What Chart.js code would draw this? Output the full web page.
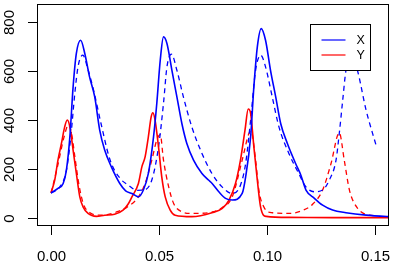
<!DOCTYPE html>
<html>
<head>
<meta charset="utf-8">
<script src="https://cdn.jsdelivr.net/npm/chart.js@4/dist/chart.umd.min.js"></script>
<style>
  html, body { margin: 0; padding: 0; background: #fff; }
  #wrap { width: 393px; height: 263px; }
</style>
</head>
<body>
<div id="wrap"><canvas id="chart" width="393" height="263"></canvas></div>
<script>
// observed series (solid)
const obsTimeX = [0, 0.0032, 0.0056, 0.0071, 0.0087, 0.0102, 0.0117, 0.0137, 0.0156, 0.0178, 0.0202, 0.0225, 0.0248, 0.0279, 0.0318, 0.0345, 0.0374, 0.0404, 0.0427, 0.045, 0.0474, 0.0489, 0.0505, 0.052, 0.0536, 0.0559, 0.0582, 0.0605, 0.0628, 0.0659, 0.0698, 0.0728, 0.0745, 0.0776, 0.0807, 0.0838, 0.0884, 0.09, 0.0923, 0.0938, 0.0954, 0.0972, 0.0992, 0.1015, 0.1039, 0.1062, 0.1093, 0.1131, 0.1155, 0.1179, 0.1218, 0.1256, 0.1302, 0.1364, 0.1457, 0.16];
const obsX = [102, 120, 140, 195, 331, 536, 673, 727, 673, 577, 495, 359, 277, 208, 140, 110, 99, 85, 113, 181, 331, 468, 645, 741, 714, 604, 495, 386, 304, 236, 181, 154, 140, 106, 79, 72, 99, 167, 331, 536, 700, 775, 727, 604, 495, 386, 304, 222, 175, 113, 79, 51, 31, 20, 10, 2];

const obsTimeY = [0, 0.0017, 0.0032, 0.0048, 0.0063, 0.0075, 0.0087, 0.0102, 0.0117, 0.0133, 0.0148, 0.0171, 0.021, 0.0248, 0.0294, 0.0333, 0.0356, 0.0374, 0.0404, 0.042, 0.0435, 0.045, 0.0463, 0.0471, 0.0481, 0.0497, 0.0512, 0.0528, 0.0551, 0.0574, 0.0651, 0.0744, 0.0792, 0.0823, 0.0853, 0.0876, 0.0897, 0.0912, 0.0923, 0.0938, 0.0954, 0.0969, 0.0995, 0.11, 0.13, 0.16];
const obsY = [102, 154, 236, 304, 372, 400, 372, 277, 181, 85, 44, 17, 5, 10, 14, 31, 55, 85, 140, 208, 249, 331, 413, 430, 400, 290, 167, 85, 31, 10, 4, 20, 38, 72, 140, 236, 359, 445, 427, 290, 154, 44, 5, 1, 0, 0];

// fitted series (dashed)
const fitTimeX = [0, 0.004, 0.007, 0.009, 0.011, 0.0125, 0.0147, 0.017, 0.02, 0.023, 0.0273, 0.032, 0.0358, 0.0396, 0.0426, 0.0466, 0.0497, 0.052, 0.0536, 0.0557, 0.0582, 0.0612, 0.0651, 0.0698, 0.0744, 0.0792, 0.0838, 0.0876, 0.09, 0.0923, 0.0946, 0.097, 0.0992, 0.1023, 0.1054, 0.11, 0.1146, 0.1179, 0.1218, 0.1256, 0.1287, 0.1318, 0.1333, 0.1349, 0.1364, 0.139, 0.1417, 0.1457, 0.1503];
const fitX = [100, 125, 190, 320, 510, 620, 666, 610, 510, 390, 236, 160, 133, 112, 113, 154, 290, 468, 618, 670, 604, 495, 372, 263, 181, 125, 99, 133, 222, 400, 604, 666, 618, 495, 372, 263, 180, 126, 106, 113, 154, 236, 345, 482, 604, 668, 604, 441, 297];

const fitTimeY = [0, 0.003, 0.006, 0.008, 0.0095, 0.011, 0.013, 0.015, 0.018, 0.022, 0.026, 0.03, 0.035, 0.0404, 0.0435, 0.0466, 0.0489, 0.0505, 0.052, 0.0544, 0.0567, 0.0605, 0.065, 0.074, 0.079, 0.0838, 0.0884, 0.0915, 0.0925, 0.0946, 0.0961, 0.0984, 0.1023, 0.11, 0.1168, 0.121, 0.1256, 0.1295, 0.1333, 0.1356, 0.138, 0.1418, 0.1472, 0.15];
const fitY = [100, 210, 330, 380, 345, 250, 130, 55, 20, 10, 12, 22, 42, 85, 140, 236, 318, 340, 236, 126, 58, 24, 17, 22, 40, 85, 236, 345, 355, 236, 113, 44, 20, 17, 31, 55, 113, 222, 348, 236, 113, 38, 10, 8];

const xTicks = [0, 0.05, 0.10, 0.15];
const xTickLabels = ["0.00", "0.05", "0.10", "0.15"];
const yTicks = [0, 200, 400, 600, 800];
const legendNames = ["X", "Y"];

const toPoints = (t, v) => t.map((tt, i) => ({ x: tt, y: v[i] }));

const BLUE = "#0000ff";
const RED = "#ff0000";

// R style box, axes and legend
const rAxes = {
  id: "rAxes",
  afterDraw(chart) {
    const { ctx, chartArea: a, scales: { x, y } } = chart;
    ctx.save();
    ctx.strokeStyle = "#000";
    ctx.fillStyle = "#000";
    ctx.lineWidth = 1;
    ctx.strokeRect(a.left + 0.5, a.top + 0.5, a.right - a.left - 1, a.bottom - a.top - 1);

    ctx.font = "15px 'Liberation Sans', Arial, sans-serif";
    ctx.textAlign = "center";
    ctx.textBaseline = "alphabetic";
    xTicks.forEach((v, i) => {
      const px = Math.round(x.getPixelForValue(v)) + 0.5;
      ctx.beginPath();
      ctx.moveTo(px, a.bottom - 0.5);
      ctx.lineTo(px, a.bottom + 9);
      ctx.stroke();
      ctx.fillText(xTickLabels[i], px, a.bottom + 34.5);
    });
    yTicks.forEach(v => {
      const py = Math.round(y.getPixelForValue(v)) + 0.5;
      ctx.beginPath();
      ctx.moveTo(a.left + 0.5, py);
      ctx.lineTo(a.left - 9, py);
      ctx.stroke();
      ctx.save();
      ctx.translate(a.left - 23.5, py);
      ctx.rotate(-Math.PI / 2);
      ctx.fillText(String(v), 0, 0);
      ctx.restore();
    });

    // legend box
    const bx = a.right - 78.5, by = a.top + 20.5, bw = 60, bh = 46;
    ctx.fillStyle = "#fff";
    ctx.fillRect(bx, by, bw, bh);
    ctx.strokeStyle = "#000";
    ctx.strokeRect(bx, by, bw, bh);
    ctx.font = "12.5px 'Liberation Sans', Arial, sans-serif";
    ctx.textAlign = "left";
    ctx.textBaseline = "middle";
    [BLUE, RED].forEach((c, i) => {
      const ly = by + 15.5 + i * 15;
      ctx.strokeStyle = c;
      ctx.lineWidth = 1.2;
      ctx.beginPath();
      ctx.moveTo(bx + 11, ly);
      ctx.lineTo(bx + 35, ly);
      ctx.stroke();
      ctx.fillStyle = "#000";
      ctx.fillText(legendNames[i], bx + 46, ly + 1);
    });
    ctx.restore();
  }
};

const line = (label, pts, color, dashed) => ({
  label,
  data: pts,
  borderColor: color,
  borderWidth: dashed ? 1.3 : 1.6,
  borderDash: dashed ? [5, 4] : [],
  pointRadius: 0,
  cubicInterpolationMode: "monotone",
  fill: false
});

new Chart(document.getElementById("chart"), {
  type: "line",
  data: {
    datasets: [
      line("X", toPoints(obsTimeX, obsX), BLUE, false),
      line("Y", toPoints(obsTimeY, obsY), RED, false),
      line("X fit", toPoints(fitTimeX, fitX), BLUE, true),
      line("Y fit", toPoints(fitTimeY, fitY), RED, true)
    ]
  },
  options: {
    responsive: false,
    animation: false,
    layout: { padding: { left: 37, right: 4, top: 4, bottom: 37 } },
    plugins: { legend: { display: false }, tooltip: { enabled: false } },
    scales: {
      x: { type: "linear", min: -0.0065, max: 0.1563, display: false },
      y: { type: "linear", min: -34.4, max: 875.8, display: false }
    }
  },
  plugins: [rAxes]
});
</script>
</body>
</html>
